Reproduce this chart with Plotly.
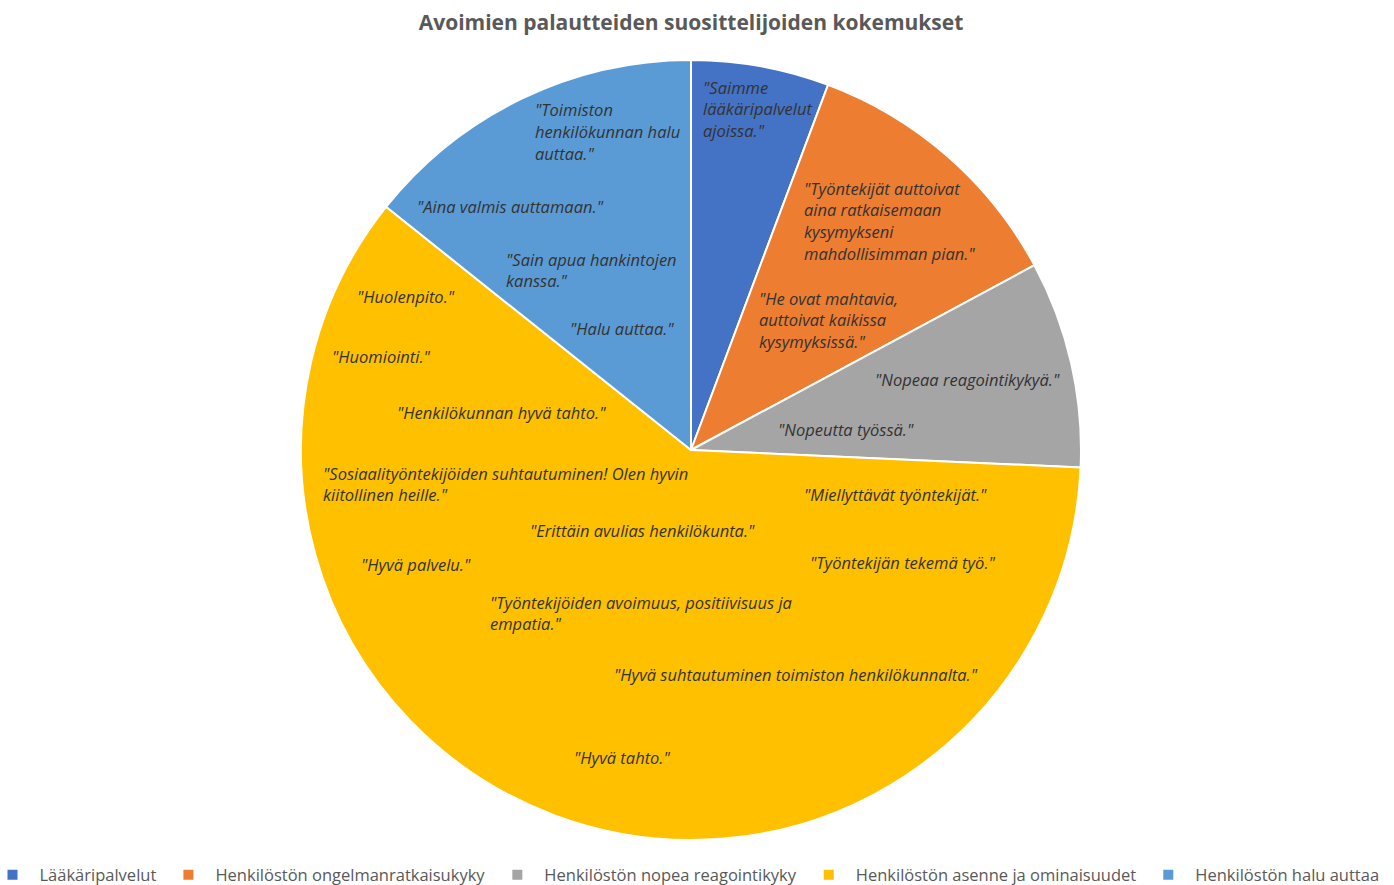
import plotly.graph_objects as go

# ---------------- data ----------------
categories = [
    "Lääkäripalvelut",
    "Henkilöstön ongelmanratkaisukyky",
    "Henkilöstön nopea reagointikyky",
    "Henkilöstön asenne ja ominaisuudet",
    "Henkilöstön halu auttaa",
]
values = [2, 4, 3, 21, 5]
title_text = "Avoimien palautteiden suosittelijoiden kokemukset"

quotes_laakari = ['"Saimme\nlääkäripalvelut\najoissa."']
quotes_ongelma = [
    '"Työntekijät auttoivat\naina ratkaisemaan\nkysymykseni\nmahdollisimman pian."',
    '"He ovat mahtavia,\nauttoivat kaikissa\nkysymyksissä."',
]
quotes_reagointi = ['"Nopeaa reagointikykyä."', '"Nopeutta työssä."']
quotes_asenne = [
    '"Miellyttävät työntekijät."',
    '"Työntekijän tekemä työ."',
    '"Hyvä suhtautuminen toimiston henkilökunnalta."',
    '"Hyvä tahto."',
    '"Työntekijöiden avoimuus, positiivisuus ja\nempatia."',
    '"Hyvä palvelu."',
    '"Erittäin avulias henkilökunta."',
    '"Sosiaalityöntekijöiden suhtautuminen! Olen hyvin\nkiitollinen heille."',
    '"Henkilökunnan hyvä tahto."',
    '"Huomiointi."',
    '"Huolenpito."',
]
quotes_halu = [
    '"Halu auttaa."',
    '"Sain apua hankintojen\nkanssa."',
    '"Aina valmis auttamaan."',
    '"Toimiston\nhenkilökunnan halu\nauttaa."',
]

# ---------------- styles / layout ----------------
colors = ["#4472C4", "#ED7D31", "#A5A5A5", "#FFC000", "#5B9BD5"]
W, H = 1394, 885
cx, cy, r = 691, 450, 390  # pie centre and radius in pixels
line_h = 21.7
FONT = "'Open Sans', Lato, sans-serif"
quote_font = dict(family=FONT, size=16.5, color="#333333", style="italic")

# left edge / first-line centre of each quote label (pixels)
pos_laakari = [(701, 87)]
pos_ongelma = [(802, 188), (757, 298)]
pos_reagointi = [(873, 379), (776, 429)]
pos_asenne = [(802, 495), (808, 562), (612, 674), (572, 757), (488, 602),
              (359, 564), (528, 530), (321, 473), (395, 412), (330, 356), (355, 296)]
pos_halu = [(568, 328), (504, 259), (415, 207), (533, 110)]

fig = go.Figure(
    go.Pie(
        labels=categories,
        values=values,
        sort=False,
        direction="clockwise",
        rotation=0,
        marker=dict(colors=colors, line=dict(color="white", width=2)),
        textinfo="none",
        hoverinfo="label+value",
        domain=dict(x=[(cx - r) / W, (cx + r) / W], y=[1 - (cy + r) / H, 1 - (cy - r) / H]),
    )
)

annotations = []
for quotes, poss in [
    (quotes_laakari, pos_laakari),
    (quotes_ongelma, pos_ongelma),
    (quotes_reagointi, pos_reagointi),
    (quotes_asenne, pos_asenne),
    (quotes_halu, pos_halu),
]:
    for q, (px, py) in zip(quotes, poss):
        for i, line in enumerate(q.split("\n")):
            annotations.append(
                dict(
                    text=line,
                    x=px / W,
                    y=1 - (py + i * line_h) / H,
                    xref="paper",
                    yref="paper",
                    xanchor="left",
                    yanchor="middle",
                    showarrow=False,
                    font=quote_font,
                )
            )

fig.update_layout(
    width=W,
    height=H,
    margin=dict(l=0, r=0, t=0, b=0, autoexpand=False),
    paper_bgcolor="white",
    plot_bgcolor="white",
    title=dict(
        text=title_text,
        x=691 / W,
        xanchor="center",
        y=1 - 23 / H,
        yanchor="middle",
        xref="paper",
        yref="paper",
        font=dict(family=FONT, size=21, color="#595959", weight="bold"),
    ),
    legend=dict(
        orientation="h",
        x=685 / W,
        xanchor="center",
        y=1 - 875 / H,
        yanchor="middle",
        itemwidth=44,
        font=dict(family=FONT, size=16.5, color="#595959"),
        itemclick=False,
        itemdoubleclick=False,
    ),
    annotations=annotations,
)

fig.write_html("out.html")
